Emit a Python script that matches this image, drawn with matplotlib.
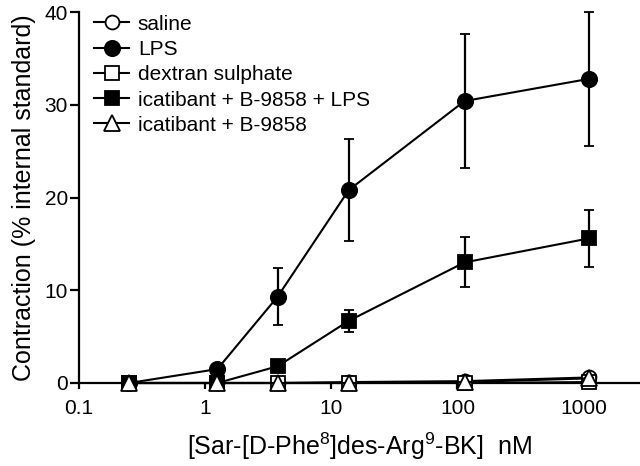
import matplotlib
matplotlib.use("Agg")
import matplotlib.pyplot as plt
from matplotlib.lines import Line2D

plt.rcParams['font.family'] = ['Liberation Sans', 'DejaVu Sans']
plt.rcParams['mathtext.fontset'] = 'custom'
plt.rcParams['mathtext.rm'] = 'Liberation Sans'

conc = [0.25, 1.25, 3.75, 13.75, 113.75, 1113.75]

saline = [0.0, 0.0, 0.0, 0.1, 0.2, 0.6]
saline_err = [0, 0, 0, 0, 0, 0]
lps = [0.0, 1.5, 9.3, 20.8, 30.4, 32.8]
lps_err = [0.0, 0.6, 3.1, 5.5, 7.2, 7.2]
dextran = [0.0, 0.0, 0.0, 0.0, 0.0, 0.1]
dextran_err = [0, 0, 0, 0, 0, 0]
icat_lps = [0.0, 0.0, 1.8, 6.7, 13.0, 15.6]
icat_lps_err = [0.0, 0.0, 0.3, 1.2, 2.7, 3.1]
icat = [0.0, 0.0, 0.0, 0.0, 0.1, 0.5]
icat_err = [0, 0, 0, 0, 0, 0]

labels = ["saline", "LPS", "dextran sulphate", "icatibant + B-9858 + LPS", "icatibant + B-9858"]

fig = plt.figure(figsize=(6.4, 4.66), dpi=100)
ax = fig.add_axes([79/640, 83/466, 1 - 79/640, (383-12)/466])

series = [
    (saline, saline_err, 'o', 'white', labels[0], 10),
    (lps, lps_err, 'o', 'black', labels[1], 11),
    (dextran, dextran_err, 's', 'white', labels[2], 10),
    (icat_lps, icat_lps_err, 's', 'black', labels[3], 10),
    (icat, icat_err, '^', 'white', labels[4], 11),
]
handles = []
for i, (y, e, m, fc, lab, ms) in enumerate(series):
    ax.errorbar(conc, y, yerr=e, fmt='-', marker=m, color='black', mfc=fc, mec='black',
                ms=ms, mew=1.3, lw=1.5, elinewidth=1.6, capsize=3.5, capthick=1.6,
                clip_on=False, zorder=3 + i)
    handles.append(Line2D([], [], color='black', lw=1.5, marker=m, mfc=fc, mec='black',
                          ms=ms, mew=1.3))

ax.set_xscale('log')
ax.set_xlim(0.1, 2800)
ax.set_ylim(0, 40)
ax.set_xticks([0.1, 1, 10, 100, 1000])
ax.set_xticklabels(["0.1", "1", "10", "100", "1000"])
ax.xaxis.set_minor_locator(matplotlib.ticker.NullLocator())
ax.set_yticks([0, 10, 20, 30, 40])
for s in ['top', 'right']:
    ax.spines[s].set_visible(False)
for s in ['left', 'bottom']:
    ax.spines[s].set_linewidth(1.6)
ax.tick_params(axis='y', which='major', labelsize=15, width=1.6, length=6.5, direction='out', pad=1.5)
ax.tick_params(axis='x', which='major', labelsize=15, width=1.6, length=4.5, direction='out', pad=7)

ax.set_xlabel(r"[Sar-[D-Phe$^{\mathregular{8}}$]des-Arg$^{\mathregular{9}}$-BK]  nM", fontsize=18, labelpad=9)
ax.set_ylabel("Contraction (% internal standard)", fontsize=18, labelpad=6)

ax.legend(handles, labels, loc='upper left', bbox_to_anchor=(0.012, 1.015), frameon=False,
          fontsize=15, handlelength=1.7, handletextpad=0.4, labelspacing=0.3, borderaxespad=0.0)

fig.savefig("out.png", dpi=100)
